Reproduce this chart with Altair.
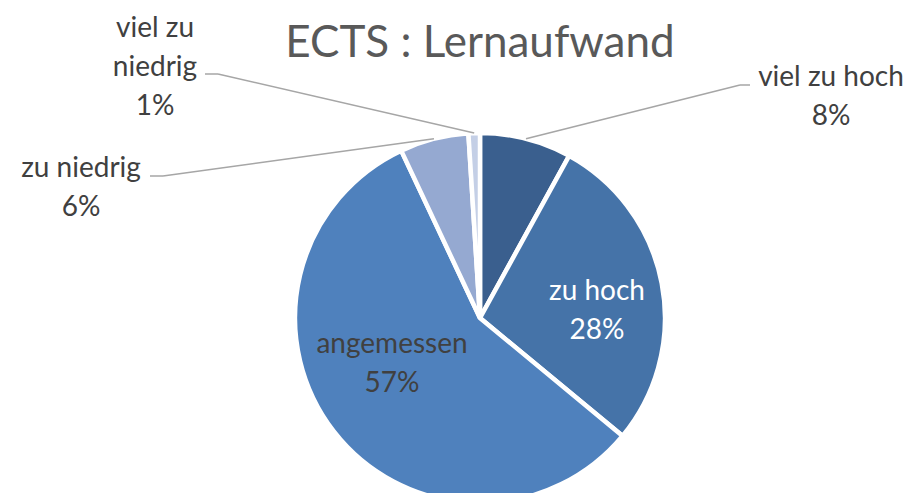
import altair as alt
import pandas as pd

# ---- data ----
categories = ["viel zu hoch", "zu hoch", "angemessen", "zu niedrig", "viel zu niedrig"]
values = [8, 28, 57, 6, 1]
label_lines = [["viel zu hoch", "8%"], ["zu hoch", "28%"], ["angemessen", "57%"],
               ["zu niedrig", "6%"], ["viel zu", "niedrig", "1%"]]
colors = ["#3A5F8E", "#4573A8", "#4F81BD", "#95A9D1", "#C4CFE6"]
title_text = "ECTS : Lernaufwand"

# ---- layout (pixel positions of labels / leader elbows) ----
label_x = [823, 589, 384, 73, 147]
label_y = [78, 292, 345, 169, 29]
label_color = ["#404040", "#FFFFFF", "#404040", "#404040", "#404040"]
line_height = 39
outside = [True, False, False, True, True]
elbow_x = [732, None, None, 155, 210]
elbow_y = [77, None, None, 168, 66]
end_x = [742, None, None, 142, 197]
end_y = [77, None, None, 168, 66]

W, H = 901, 485
CX, CY, R = 472, 310, 185

df = pd.DataFrame({
    "cat": categories,
    "value": values,
    "order": list(range(len(categories))),
})
rows = []
for c, lines, lx, ly, col in zip(categories, label_lines, label_x, label_y, label_color):
    for i, t in enumerate(lines):
        rows.append({"cat": c, "text": t, "idx": i, "lx": lx, "ly": ly, "tcolor": col})
labels_df = pd.DataFrame(rows)
lead_df = pd.DataFrame({
    "cat": [c for c, o in zip(categories, outside) if o],
    "bx": [v for v, o in zip(elbow_x, outside) if o],
    "by": [v for v, o in zip(elbow_y, outside) if o],
    "ex": [v for v, o in zip(end_x, outside) if o],
    "ey": [v for v, o in zip(end_y, outside) if o],
})

base = alt.Chart(df)

pie = base.mark_arc(stroke="white", strokeWidth=4.5).encode(
    theta=alt.Theta("value:Q", stack=True),
    order=alt.Order("order:Q"),
    color=alt.Color("cat:N", scale=alt.Scale(domain=categories, range=colors), legend=None),
    radius=alt.value(R),
    x=alt.value(CX),
    y=alt.value(CY),
)

lead_base = base.transform_window(
    cum="sum(value)", sort=[alt.SortField("order")], frame=[None, 0]
).transform_joinaggregate(
    total="sum(value)"
).transform_calculate(
    mid="(datum.cum - datum.value/2)/datum.total*2*PI"
).transform_calculate(
    ax=f"{CX} + {R}*sin(datum.mid)",
    ay=f"{CY} - {R}*cos(datum.mid)",
).transform_lookup(
    lookup="cat", from_=alt.LookupData(data=lead_df, key="cat", fields=["bx", "by", "ex", "ey"])
).transform_filter("isValid(datum.bx)")

lead1 = lead_base.mark_rule(color="#A6A6A6", strokeWidth=1.5).encode(
    x=alt.X("ax:Q", scale=None), y=alt.Y("ay:Q", scale=None),
    x2="bx:Q", y2="by:Q",
)
lead2 = lead_base.mark_rule(color="#A6A6A6", strokeWidth=1.5).encode(
    x=alt.X("bx:Q", scale=None), y=alt.Y("by:Q", scale=None),
    x2="ex:Q", y2="ey:Q",
)

texts = alt.Chart(labels_df).transform_calculate(
    yy=f"datum.ly + datum.idx*{line_height}"
).mark_text(
    font="Lato", fontSize=28, align="center", baseline="alphabetic"
).encode(
    x=alt.X("lx:Q", scale=None), y=alt.Y("yy:Q", scale=None),
    text="text:N",
    color=alt.Color("tcolor:N", scale=None),
)

title = alt.Chart(pd.DataFrame({"t": [title_text]})).mark_text(
    font="Lato", fontSize=44, align="center", baseline="alphabetic", color="#595959"
).encode(x=alt.value(CX), y=alt.value(49), text="t:N")

chart = alt.layer(pie, lead1, lead2, texts, title).properties(
    width=W, height=H, padding=0, autosize=alt.AutoSizeParams(type="none")
).configure_view(stroke=None)

chart.save("out.html", embed_options={"renderer": "svg", "actions": False})
